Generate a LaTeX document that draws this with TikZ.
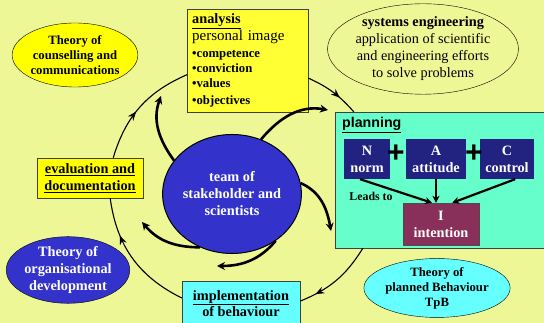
\documentclass[tikz,border=0pt]{standalone}
\usepackage{fontspec}
\setmainfont{Liberation Serif}
\newfontfamily\arialfont{Liberation Sans}
\usetikzlibrary{shapes.geometric, arrows.meta, decorations.markings}

\definecolor{bgyellow}{RGB}{238,247,150}
\definecolor{lemon}{RGB}{255,255,0}
\definecolor{boxyellow}{RGB}{255,255,51}
\definecolor{teamblue}{RGB}{51,51,204}
\definecolor{navy}{RGB}{34,34,128}
\definecolor{wine}{RGB}{136,48,90}
\definecolor{aqua}{RGB}{102,255,204}
\definecolor{skycyan}{RGB}{102,255,255}

\newcommand{\bigfont}{\fontsize{14.3}{17}\selectfont}
\newcommand{\smallfont}{\fontsize{12.7}{15}\selectfont}

\tikzset{
	x=1pt, y=1pt, % one unit is one pixel of the slide
	theory/.style={ellipse, draw=black, thin, inner sep=0pt, align=center, font=\bigfont\bfseries}, % the four theories round the cycle
	stage/.style={rectangle, draw=black!75, thin, inner sep=2pt, align=center, font=\bigfont\bfseries}, % boxes sitting on the cycle
	factor/.style={rectangle, fill=navy, text=white, inner sep=0pt, minimum height=40, align=center, font=\bigfont\bfseries},
	plus/.style={inner sep=0pt, font=\arialfont\fontsize{30}{30}\selectfont\bfseries},
	cyclearc/.style={line width=1.1pt, postaction={decorate}, decoration={markings, mark=at position #1 with {\arrow{Stealth[length=9pt,width=7pt]}}}}, % thin arc with an arrow on it
	push/.style={line width=2.6pt, -{Stealth[length=8pt,width=8pt]}}, % thick arrows out of the team
	leads/.style={line width=2.2pt, -{Stealth[length=7pt,width=7pt]}},
}

\begin{document}
\begin{tikzpicture}
	\useasboundingbox[fill=bgyellow] (0,0) rectangle (544,323);
			\node[theory, fill=lemon, minimum width=124, minimum height=64, font=\smallfont\bfseries] (counsel) at (75,268) {Theory of\\counselling and\\communications};
			\node[stage, fill=boxyellow, anchor=north west, minimum height=103, inner xsep=5pt, text width=111, align=left] (analysis) at (187,314) {\underline{analysis}\\\fontsize{15}{17}\selectfont\mdseries personal image\\[2pt]\smallfont\bfseries •competence\\•conviction\\•values\\•objectives};
			\node[theory, fill=bgyellow, minimum width=168, minimum height=84, font=\bigfont] (syseng) at (423,274) {\textbf{systems engineering}\\application of scientific\\and engineering efforts\\to solve problems};
			\node[rectangle, draw=black!75, fill=aqua, anchor=north west, minimum width=212, minimum height=136] (planning) at (335,211) {};
			\node[anchor=base west, inner sep=0pt, font=\arialfont\fontsize{14.2}{17}\selectfont\bfseries] (plantitle) at (342,195) {\underline{planning}};
			\node[factor, minimum width=46] (N) at (367,164) {N\\norm};
			\node[factor, minimum width=60] (A) at (436,164) {A\\attitude};
			\node[factor, minimum width=54] (C) at (507,164) {C\\control};
			\node[plus] (plusNA) at (396,169) {+};
			\node[plus] (plusAC) at (474,169) {+};
			\node[factor, fill=wine, draw=black!70, minimum width=76, minimum height=42] (I) at (441,99) {I\\intention};
			\node[inner sep=0pt, font=\fontsize{11.9}{14}\selectfont\bfseries] (leads) at (371,127) {Leads to};
			\node[ellipse, draw=black, line width=1pt, fill=teamblue, text=white, minimum width=129, minimum height=119, inner sep=0pt, align=center, font=\bigfont\bfseries] (team) at (232,129) {team of\\stakeholder and\\scientists};
			\node[stage, fill=lemon, minimum width=106, minimum height=40] (evaluation) at (90,145) {\underline{evaluation and}\\\underline{documentation}};
			\node[theory, fill=teamblue, text=white, minimum width=120, minimum height=62] (orgdev) at (68,53) {Theory of\\organisational\\development};
			\node[stage, fill=skycyan, anchor=north, minimum width=118, minimum height=44, font=\fontsize{14.3}{15}\selectfont\bfseries] (implementation) at (241,42) {\underline{implementation}\\of behaviour};
			\node[theory, fill=skycyan, minimum width=134, minimum height=58, font=\smallfont\bfseries] (tpb) at (437,35) {Theory of\\planned Behaviour\\TpB};
	% the cycle
	\draw[cyclearc=0.45] (evaluation.41) to[bend left=25] (analysis.193);
	\draw[cyclearc=0.65] (analysis.-16) to[bend left=12] (planning.142);
	\draw[cyclearc=0.8] (planning.221) to[bend left=18] (implementation.2);
	\draw[cyclearc=0.7] (implementation.175) to[bend left=28] (evaluation.-45);
	% N + A + C leads to I
	\draw[leads] (N.251) -- (I.113);
	\draw[leads] (A.south) -- (A.south |- I.north);
	\draw[leads] (C.292) -- (I.62);
	% arrows out of the team
			\coordinate (tipNW) at (161,227);
			\coordinate (tipNE) at (328,213);
			\coordinate (tipE) at (331,92);
			\coordinate (tipS) at (217,57);
			\coordinate (tipW) at (142,101);
	\draw[push] (team.150) to[out=126, in=-110] (tipNW);
	\draw[push] (team.62) to[out=50, in=170] (tipNE);
	\draw[push] (team.9) to[out=-24, in=100] (tipE);
	\draw[push] (team.313) to[out=-130, in=0] (tipS);
	\draw[push] (team.239) to[out=180, in=-50] (tipW);
\end{tikzpicture}
\end{document}
